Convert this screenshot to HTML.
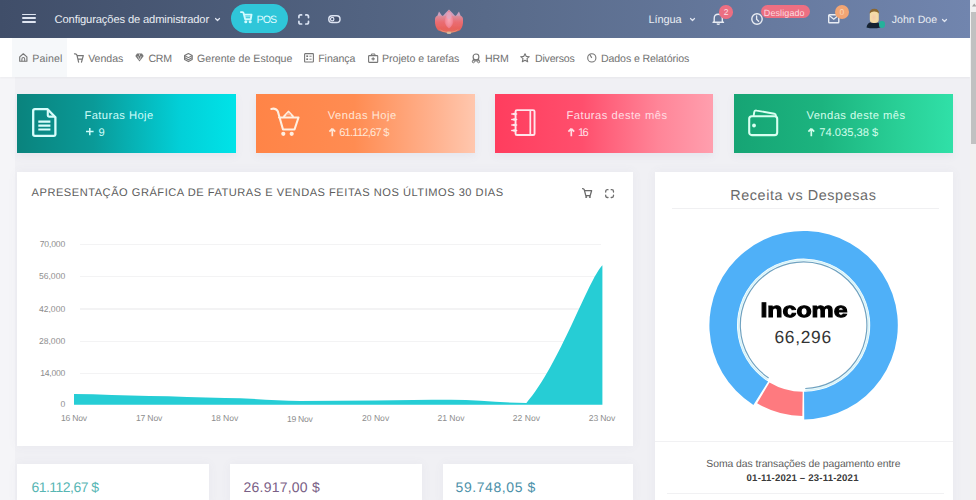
<!DOCTYPE html>
<html><head><meta charset="utf-8"><title>Dashboard</title><style>
*{margin:0;padding:0;box-sizing:border-box}
html,body{width:976px;height:500px;overflow:hidden;background:#f0f0f4;font-family:"Liberation Sans",sans-serif;text-rendering:geometricPrecision}
.t{position:absolute;white-space:nowrap;line-height:1}
.b{position:absolute}
.i{position:absolute;overflow:visible}
</style></head>
<body>
<div class="b" style="left:0px;top:77px;width:15px;height:423px;background:#f5f5f8"></div>
<div class="b" style="left:0px;top:0px;width:970px;height:38px;background:linear-gradient(90deg,#404e69 0%,#586a89 50%,#7185ae 100%)"></div>
<div class="b" style="left:22px;top:13.5px;width:14px;height:1.8px;background:#dfe5f1;border-radius:1px"></div>
<div class="b" style="left:22px;top:17.2px;width:14px;height:1.8px;background:#dfe5f1;border-radius:1px"></div>
<div class="b" style="left:22px;top:20.9px;width:14px;height:1.8px;background:#dfe5f1;border-radius:1px"></div>
<div class="t" style="left:54.60px;top:14.81px;font-size:11.2px;color:#e9edf3;letter-spacing:-0.140px;">Configurações de administrador</div>
<svg class="i" style="left:214.6px;top:17.5px;" width="5" height="3" viewBox="0 0 5 3"><path d="M0.5 0.5 L2.5 2.5 L4.5 0.5" fill="none" stroke="#dfe5f1" stroke-width="1.2" stroke-linecap="round" stroke-linejoin="round"/></svg>
<div class="b" style="left:231px;top:4px;width:56.5px;height:29px;background:#2fc6d9;border-radius:15px"></div>
<svg class="i" style="left:240px;top:11px;" width="12.5" height="12.5" viewBox="0 0 12.5 12.5"><path d="M0.9 1.1 H2.5 Q3.3 1.1 3.6 2.2 L5.2 8.3 H10.7 L11.5 3.6 H4" fill="none" stroke="#d2fbff" stroke-width="1.9" stroke-linejoin="round" stroke-linecap="round"/><rect x="4.6" y="5" width="6" height="1.4" fill="#d2fbff" opacity="0.5"/><circle cx="5.8" cy="10.8" r="1.55" fill="#d2fbff"/><circle cx="10.2" cy="10.8" r="1.55" fill="#d2fbff"/></svg>
<div class="t" style="left:256.60px;top:14.84px;font-size:10.6px;color:#dffbff;letter-spacing:-0.900px;">POS</div>
<svg class="i" style="left:297.8px;top:13.5px;" width="11.4" height="10.9" viewBox="0 0 11.4 10.9"><path d="M0.9 3.6 V2.7 Q0.9 0.9 2.7 0.9 H3.6 M7.8 0.9 H8.7 Q10.5 0.9 10.5 2.7 V3.6 M10.5 7.3 V8.2 Q10.5 10 8.7 10 H7.8 M3.6 10 H2.7 Q0.9 10 0.9 8.2 V7.3" fill="none" stroke="#d9e2f2" stroke-width="1.7" stroke-linecap="round"/></svg>
<svg class="i" style="left:328.1px;top:14.9px;" width="12.8" height="8.3" viewBox="0 0 12.8 8.3"><rect x="0.8" y="0.8" width="11.2" height="6.7" rx="3.35" fill="#46536f" stroke="#dde4f2" stroke-width="1.5"/><circle cx="4.2" cy="4.15" r="1.7" fill="none" stroke="#dde4f2" stroke-width="1.2"/></svg>
<svg class="i" style="left:430px;top:6px;" width="38" height="32" viewBox="0 0 38 32"><defs><filter id="bl" x="-30%" y="-30%" width="160%" height="160%"><feGaussianBlur stdDeviation="0.65"/></filter>
<radialGradient id="lg" cx="50%" cy="50%" r="50%"><stop offset="0" stop-color="#f9a6b4"/><stop offset="0.7" stop-color="#f28b9b"/><stop offset="1" stop-color="#ec7885"/></radialGradient>
<linearGradient id="lb" x1="0" y1="0" x2="0" y2="1"><stop offset="0" stop-color="#d9909f"/><stop offset="0.35" stop-color="#ea6d74"/><stop offset="0.75" stop-color="#e8625c"/><stop offset="1" stop-color="#e0705a"/></linearGradient></defs>
<g filter="url(#bl)">
<path d="M6.5 12 L9 5.5 L12.5 10.5 L15.5 7 L19 3.6 L22.5 7 L25.5 10.5 L29 5.5 L31.5 12 Z" fill="#cba0be"/>
<path d="M5 13 Q5.2 10 8 9.8 L30 9.8 Q32.8 10 33 13 Q33.5 20.5 30 24.3 Q25 27 19 27 Q13 27 8 24.3 Q4.5 20.5 5 13 Z" fill="url(#lb)"/>
<path d="M19 4.5 Q14.5 10 14.5 15 Q15 20 19 22.5 Q23 20 23.5 15 Q23.5 10 19 4.5 Z" fill="url(#lg)"/>
<ellipse cx="19" cy="9.5" rx="2.6" ry="3.6" fill="#dcaac6" opacity="0.7"/>
<path d="M9 23 Q13 25.6 19 26 Q25 25.6 29 23 Q26 26.5 19 27 Q12 26.5 9 23Z" fill="#e9a78a" opacity="0.6"/>
<ellipse cx="19" cy="26.8" rx="2.4" ry="1.3" fill="#d8b89c"/>
</g></svg>
<div class="t" style="left:648.60px;top:14.71px;font-size:11.0px;color:#e9edf3;letter-spacing:-0.100px;">Língua</div>
<svg class="i" style="left:689.6px;top:18.0px;" width="5" height="3" viewBox="0 0 5 3"><path d="M0.5 0.5 L2.5 2.5 L4.5 0.5" fill="none" stroke="#dfe5f1" stroke-width="1.2" stroke-linecap="round" stroke-linejoin="round"/></svg>
<svg class="i" style="left:712px;top:13.3px;" width="12.5" height="11.5" viewBox="0 0 12.5 11.5"><path d="M2.2 8.5 V5.5 Q2.2 1.3 6.25 1.3 Q10.3 1.3 10.3 5.5 V8.5 L11.5 9.3 H1 Z" fill="none" stroke="#e8ecf3" stroke-width="1.4" stroke-linejoin="round"/><path d="M4.8 10.6 Q6.25 12 7.7 10.6" fill="none" stroke="#e8ecf3" stroke-width="1.3"/></svg>
<div class="b" style="left:719.3px;top:5.2px;width:13.4px;height:13.4px;background:#ec6f82;border-radius:50%"></div>
<div class="t" style="left:526.00px;width:400px;text-align:center;top:8.40px;font-size:8.5px;color:#fbe4e8;">2</div>
<svg class="i" style="left:750.5px;top:12.5px;" width="12" height="12" viewBox="0 0 12 12"><circle cx="6" cy="6" r="5.2" fill="none" stroke="#e8ecf3" stroke-width="1.4"/><path d="M5.6 3 V6.3 L7.6 8.3" fill="none" stroke="#e8ecf3" stroke-width="1.3" stroke-linecap="round"/></svg>
<div class="b" style="left:761px;top:5.3px;width:49px;height:13px;background:#ec6f82;border-radius:6.5px"></div>
<div class="t" style="left:763.80px;top:9.00px;font-size:9.0px;color:#fcd8df;letter-spacing:0.100px;">Desligado</div>
<svg class="i" style="left:827.5px;top:14px;" width="11.5" height="9.5" viewBox="0 0 11.5 9.5"><rect x="0.7" y="0.7" width="10.1" height="8.1" rx="0.8" fill="none" stroke="#e8ecf3" stroke-width="1.4"/><path d="M0.9 1.2 L5.75 5.2 L10.6 1.2" fill="none" stroke="#e8ecf3" stroke-width="1.3"/></svg>
<div class="b" style="left:834.6px;top:5px;width:14.4px;height:14.4px;background:#f2a574;border-radius:50%"></div>
<div class="t" style="left:641.80px;width:400px;text-align:center;top:8.40px;font-size:8.5px;color:#fcd6b8;">0</div>
<svg class="i" style="left:866px;top:8px;" width="15" height="22" viewBox="0 0 15 22"><defs><filter id="avb" x="-20%" y="-20%" width="140%" height="140%"><feGaussianBlur stdDeviation="0.45"/></filter>
<radialGradient id="fg" cx="45%" cy="55%" r="60%"><stop offset="0" stop-color="#f6c9a8"/><stop offset="0.6" stop-color="#f4dca8"/><stop offset="1" stop-color="#eed39a"/></radialGradient></defs>
<g filter="url(#avb)">
<path d="M0.5 19.5 Q1 15 5 14.3 L11 14.3 Q14 15 14.5 19.5 Q7 21.2 0.5 19.5 Z" fill="#172133"/>
<rect x="3.8" y="2.3" width="9" height="12.8" rx="3.6" fill="url(#fg)"/>
<path d="M3.6 5.5 Q3.6 0.8 8.3 0.8 Q13 0.8 13 5.5 Q11 3.2 8.3 3.4 Q5.6 3.2 3.6 5.5 Z" fill="#8a6630"/>
</g></svg>
<div class="b" style="left:879.1px;top:21.4px;width:6.4px;height:6.4px;background:#25b19b;border-radius:45%;filter:blur(0.3px)"></div>
<div class="t" style="left:891.70px;top:14.87px;font-size:10.6px;color:#e9edf3;letter-spacing:0.005px;">John Doe</div>
<svg class="i" style="left:942px;top:18.6px;" width="5" height="3" viewBox="0 0 5 3"><path d="M0.5 0.5 L2.5 2.5 L4.5 0.5" fill="none" stroke="#dfe5f1" stroke-width="1.2" stroke-linecap="round" stroke-linejoin="round"/></svg>
<div class="b" style="left:0px;top:38px;width:970px;height:39px;background:#fff;box-shadow:0 1px 2px rgba(0,0,0,0.04)"></div>
<div class="b" style="left:12px;top:38px;width:55px;height:39px;background:#f6f8fa"></div>
<div class="t" style="left:32.20px;top:53.90px;font-size:10.6px;color:#727272;letter-spacing:0.150px;">Painel</div>
<div class="t" style="left:88.20px;top:53.90px;font-size:10.6px;color:#727272;letter-spacing:-0.050px;">Vendas</div>
<div class="t" style="left:148.40px;top:53.90px;font-size:10.6px;color:#727272;letter-spacing:-0.250px;">CRM</div>
<div class="t" style="left:197.00px;top:53.91px;font-size:10.6px;color:#727272;letter-spacing:0.032px;">Gerente de Estoque</div>
<div class="t" style="left:318.20px;top:53.90px;font-size:10.6px;color:#727272;letter-spacing:-0.068px;">Finança</div>
<div class="t" style="left:382.00px;top:53.91px;font-size:10.6px;color:#727272;letter-spacing:-0.022px;">Projeto e tarefas</div>
<div class="t" style="left:485.00px;top:53.90px;font-size:10.6px;color:#727272;letter-spacing:-0.100px;">HRM</div>
<div class="t" style="left:535.00px;top:53.90px;font-size:10.6px;color:#727272;letter-spacing:-0.208px;">Diversos</div>
<div class="t" style="left:601.00px;top:53.91px;font-size:10.6px;color:#727272;letter-spacing:-0.110px;">Dados e Relatórios</div>
<svg class="i" style="left:18.8px;top:53.1px;" width="8.6" height="9" viewBox="0 0 8.6 9"><path d="M0.7 8.3 V3.9 L4.3 0.8 L7.9 3.9 V8.3 Z" fill="none" stroke="#767676" stroke-width="1.15" stroke-linejoin="round"/><path d="M2.9 8.3 V5.9 Q2.9 4.6 4.3 4.6 Q5.7 4.6 5.7 5.9 V8.3" fill="none" stroke="#767676" stroke-width="1.05"/></svg>
<svg class="i" style="left:73.8px;top:53px;" width="10" height="10" viewBox="0 0 10 10"><path d="M0.5 0.9 Q2.3 0.4 3 2.3 L4.6 9.2 M7.5 9.2 L9.3 2.6 H3.1 M4.1 6.1 H8.2" fill="none" stroke="#767676" stroke-width="1.2" stroke-linejoin="round" stroke-linecap="round"/></svg>
<svg class="i" style="left:135px;top:53.2px;" width="9" height="9" viewBox="0 0 9 9"><path d="M2 0.5 H7 L8.7 3 L4.5 8.6 L0.3 3 Z" fill="#767676"/><path d="M2.8 3 L4.5 7 L6.2 3 M4.5 1 V3" fill="none" stroke="#e5e5e5" stroke-width="0.7"/></svg>
<svg class="i" style="left:183.6px;top:53.1px;" width="8.8" height="9.2" viewBox="0 0 8.8 9.2"><path d="M4.4 0.6 L8.2 2.6 V6.6 L4.4 8.6 L0.6 6.6 V2.6 Z" fill="none" stroke="#767676" stroke-width="1.15" stroke-linejoin="round"/><path d="M0.8 2.7 L4.4 4.6 L8 2.7 M0.8 4.8 L4.4 6.7 L8 4.8" fill="none" stroke="#767676" stroke-width="1.05" stroke-linejoin="round"/></svg>
<svg class="i" style="left:303.6px;top:53.2px;" width="10" height="9.6" viewBox="0 0 10 9.6"><rect x="0.6" y="0.6" width="8.8" height="8.4" rx="0.6" fill="none" stroke="#767676" stroke-width="1.1"/><rect x="2.3" y="2.4" width="1.8" height="1.6" fill="#767676"/><rect x="2.3" y="5.4" width="1.8" height="1.6" fill="#767676"/><path d="M5.4 3.2 H7.6 M5.4 6.2 H7.6" stroke="#767676" stroke-width="0.9"/></svg>
<svg class="i" style="left:367.7px;top:52.7px;" width="10.3" height="10" viewBox="0 0 10.3 10"><rect x="0.6" y="2.6" width="9.1" height="6.8" rx="0.7" fill="none" stroke="#767676" stroke-width="1.1"/><path d="M3.4 2.6 V1 H6.9 V2.6" fill="none" stroke="#767676" stroke-width="1"/><path d="M5.15 4.2 V7.6 M3.5 5.9 H6.8" stroke="#767676" stroke-width="1.1"/></svg>
<svg class="i" style="left:471px;top:52.5px;" width="10.5" height="10.5" viewBox="0 0 10.5 10.5"><circle cx="5" cy="3.9" r="2.9" fill="none" stroke="#767676" stroke-width="1.15"/><path d="M2.7 5.8 L1.6 8.4 M7.3 5.8 L8.4 8.4 M3.4 7.3 L5 8.2 L6.6 7.3" fill="none" stroke="#767676" stroke-width="1.05"/><circle cx="2.4" cy="8.7" r="1.1" fill="none" stroke="#767676" stroke-width="0.95"/><circle cx="7.6" cy="8.7" r="1.1" fill="none" stroke="#767676" stroke-width="0.95"/></svg>
<svg class="i" style="left:520.3px;top:53px;" width="10" height="9.6" viewBox="0 0 10 9.6"><path d="M5 0.7 L6.3 3.4 L9.3 3.7 L7 5.7 L7.7 8.8 L5 7.2 L2.3 8.8 L3 5.7 L0.7 3.7 L3.7 3.4 Z" fill="none" stroke="#767676" stroke-width="1.1" stroke-linejoin="round"/></svg>
<svg class="i" style="left:586.6px;top:53px;" width="9.6" height="9.6" viewBox="0 0 9.6 9.6"><circle cx="4.8" cy="4.9" r="4.1" fill="none" stroke="#767676" stroke-width="1.1"/><path d="M2.6 1.3 L4.8 4.9" stroke="#767676" stroke-width="1.1"/></svg>
<div class="b" style="left:17px;top:94px;width:219px;height:59px;background:linear-gradient(90deg,#0a837d 0%,#0a9a98 35%,#02d0d8 75%,#00e3e8 100%);box-shadow:0 3px 8px rgba(120,120,160,0.08)"></div>
<div class="b" style="left:256px;top:94px;width:219px;height:59px;background:linear-gradient(90deg,#ff8447 0%,#ff8c52 45%,#ffb08c 80%,#ffc7ae 100%);box-shadow:0 3px 8px rgba(120,120,160,0.08)"></div>
<div class="b" style="left:495.3px;top:94px;width:217.7px;height:59px;background:linear-gradient(90deg,#ff3d5e 0%,#ff4f6d 40%,#ff8598 75%,#ff9fae 100%);box-shadow:0 3px 8px rgba(120,120,160,0.08)"></div>
<div class="b" style="left:734px;top:94px;width:219px;height:59px;background:linear-gradient(90deg,#16a474 0%,#1cb47f 40%,#29cf96 75%,#30e0a8 100%);box-shadow:0 3px 8px rgba(120,120,160,0.08)"></div>
<svg class="i" style="left:31.5px;top:108px;" width="26" height="29.5" viewBox="0 0 26 29.5"><path d="M2.9 1.2 H15.6 L23.4 9.3 V26.5 Q23.4 27.8 22.1 27.8 H2.9 Q1.2 27.8 1.2 26.2 V2.8 Q1.2 1.2 2.9 1.2 Z" fill="none" stroke="#d8fdfb" stroke-width="2.3" stroke-linejoin="round"/><path d="M15.8 1.6 V7.5 Q15.8 8.6 17 8.6 H23" fill="none" stroke="#d8fdfb" stroke-width="2.1" stroke-linejoin="round"/><path d="M6.3 13.6 H18.4 M6.3 17.6 H18.4 M6.3 21.5 H18.4" stroke="#d8fdfb" stroke-width="2.1"/></svg>
<svg class="i" style="left:266px;top:104px;" width="36" height="34" viewBox="0 0 36 34"><path d="M5.3 4.9 Q9.6 3.8 11.8 7.2 L17 25.5 H28.5 L32.5 13.5 H13" fill="none" stroke="#fff0e2" stroke-width="2.1" stroke-linejoin="round" stroke-linecap="round"/><path d="M17.5 13 L22.5 7.6 L27.5 13" fill="none" stroke="#fff0e2" stroke-width="1.9" stroke-linejoin="round"/><path d="M19.5 11.2 L22.5 8.6 L25.5 11.2 Z" fill="#f6b08e"/><circle cx="17.3" cy="29.8" r="2.1" fill="#fff0e2"/><circle cx="25.7" cy="29.8" r="2.1" fill="#fff0e2"/></svg>
<svg class="i" style="left:506px;top:104px;" width="36" height="36" viewBox="0 0 36 36"><rect x="9.55" y="6.15" width="19" height="24.9" rx="1.4" fill="none" stroke="#ffe6eb" stroke-width="1.9"/><path d="M24.3 6.4 V30.8" stroke="#ffe6eb" stroke-width="1.7"/><path d="M5.8 10 H10.6" stroke="#ffe6eb" stroke-width="1.5" stroke-linecap="round"/><circle cx="8.2" cy="10" r="1.25" fill="#ffe6eb"/><path d="M5.8 15.5 H10.6" stroke="#ffe6eb" stroke-width="1.5" stroke-linecap="round"/><circle cx="8.2" cy="15.5" r="1.25" fill="#ffe6eb"/><path d="M5.8 21 H10.6" stroke="#ffe6eb" stroke-width="1.5" stroke-linecap="round"/><circle cx="8.2" cy="21" r="1.25" fill="#ffe6eb"/><path d="M5.8 26.4 H10.6" stroke="#ffe6eb" stroke-width="1.5" stroke-linecap="round"/><circle cx="8.2" cy="26.4" r="1.25" fill="#ffe6eb"/></svg>
<svg class="i" style="left:747.8px;top:108.8px;" width="30.5" height="27.5" viewBox="0 0 30.5 27.5"><rect x="1.2" y="7.2" width="28" height="18.9" rx="2.6" fill="none" stroke="#d8fff0" stroke-width="2.1"/><path d="M5.6 7.2 L6.2 3.4 Q6.6 1.2 8.6 1.6 L26.3 4.7 Q28.2 5.2 27.8 7.2" fill="none" stroke="#d8fff0" stroke-width="1.9"/><circle cx="6" cy="16.5" r="1.9" fill="#d8fff0"/></svg>
<div class="t" style="left:84.40px;top:110.82px;font-size:11.2px;color:#cdfcf9;letter-spacing:0.432px;">Faturas Hoje</div>
<div class="t" style="left:327.70px;top:110.78px;font-size:11.2px;color:#ffe6d6;letter-spacing:0.520px;">Vendas Hoje</div>
<div class="t" style="left:566.50px;top:110.82px;font-size:11.2px;color:#ffdde3;letter-spacing:0.492px;">Faturas deste mês</div>
<div class="t" style="left:806.40px;top:110.82px;font-size:11.2px;color:#d2fdeb;letter-spacing:0.445px;">Vendas deste mês</div>
<svg class="i" style="left:86.4px;top:128.1px;" width="7.6" height="7.2" viewBox="0 0 7.6 7.2"><path d="M3.8 0 V7.2 M0 3.6 H7.6" stroke="#cdfcf9" stroke-width="1.5"/></svg>
<div class="t" style="left:98.40px;top:127.98px;font-size:11.2px;color:#cdfcf9;letter-spacing:7.300px;">9</div>
<svg class="i" style="left:328.8px;top:127.8px;" width="6.6" height="8.2" viewBox="0 0 6.6 8.2"><path d="M3.3 0.6 L6.199999999999999 3.5999999999999996 M3.3 0.6 L0.4 3.5999999999999996 M3.3 0.8 V8.2" fill="none" stroke="#ffe6d6" stroke-width="1.7" stroke-linecap="butt" stroke-linejoin="miter"/></svg>
<div class="t" style="left:339.20px;top:127.98px;font-size:11.2px;color:#ffe6d6;letter-spacing:-0.810px;">61.112,67 $</div>
<svg class="i" style="left:568.4px;top:127.8px;" width="6.6" height="8.2" viewBox="0 0 6.6 8.2"><path d="M3.3 0.6 L6.199999999999999 3.5999999999999996 M3.3 0.6 L0.4 3.5999999999999996 M3.3 0.8 V8.2" fill="none" stroke="#ffdde3" stroke-width="1.7" stroke-linecap="butt" stroke-linejoin="miter"/></svg>
<div class="t" style="left:578.00px;top:127.96px;font-size:11.2px;color:#ffdde3;letter-spacing:-1.800px;">16</div>
<svg class="i" style="left:808.3px;top:127.8px;" width="6.6" height="8.2" viewBox="0 0 6.6 8.2"><path d="M3.3 0.6 L6.199999999999999 3.5999999999999996 M3.3 0.6 L0.4 3.5999999999999996 M3.3 0.8 V8.2" fill="none" stroke="#d2fdeb" stroke-width="1.7" stroke-linecap="butt" stroke-linejoin="miter"/></svg>
<div class="t" style="left:819.20px;top:127.98px;font-size:11.2px;color:#d2fdeb;">74.035,38 $</div>
<div class="b" style="left:17px;top:172px;width:616px;height:273.5px;background:#fff;box-shadow:0 0 10px rgba(100,100,140,0.06)"></div>
<div class="t" style="left:31.60px;top:187.86px;font-size:11.1px;color:#5c5c5c;letter-spacing:0.515px;">APRESENTAÇÃO GRÁFICA DE FATURAS E VENDAS FEITAS NOS ÚLTIMOS 30 DIAS</div>
<svg class="i" style="left:581.6px;top:188.2px;" width="10.4" height="10.2" viewBox="0 0 10.4 10.2"><path d="M0.6 0.7 Q1.8 0.6 2.3 1.8 L3.8 7.6 H8.2 L9.6 2.7 H2.6" fill="none" stroke="#6a6a6a" stroke-width="1.3" stroke-linejoin="round" stroke-linecap="round"/><circle cx="4.2" cy="9" r="1.05" fill="#6a6a6a"/><circle cx="7.9" cy="9" r="1.05" fill="#6a6a6a"/></svg>
<svg class="i" style="left:605px;top:188.8px;" width="9.2" height="9.2" viewBox="0 0 9.2 9.2"><path d="M0.7 3 V2.4 Q0.7 0.7 2.4 0.7 H3 M6.2 0.7 H6.8 Q8.5 0.7 8.5 2.4 V3 M8.5 6.2 V6.8 Q8.5 8.5 6.8 8.5 H6.2 M3 8.5 H2.4 Q0.7 8.5 0.7 6.8 V6.2" fill="none" stroke="#6e6e6e" stroke-width="1.3" stroke-linecap="round"/></svg>
<div class="b" style="left:80px;top:244.0px;width:521px;height:1.2px;background:#f3f3f4"></div>
<div class="b" style="left:80px;top:276.2px;width:521px;height:1.2px;background:#f3f3f4"></div>
<div class="b" style="left:80px;top:308.4px;width:521px;height:1.2px;background:#f3f3f4"></div>
<div class="b" style="left:80px;top:340.6px;width:521px;height:1.2px;background:#f3f3f4"></div>
<div class="b" style="left:80px;top:372.8px;width:521px;height:1.2px;background:#f3f3f4"></div>
<div class="t" style="left:-134.96px;width:200px;text-align:right;top:239.90px;font-size:8.6px;color:#8e8e8e;letter-spacing:-0.160px;">70,000</div>
<div class="t" style="left:-134.80px;width:200px;text-align:right;top:272.34px;font-size:8.6px;color:#8e8e8e;">56,000</div>
<div class="t" style="left:-134.80px;width:200px;text-align:right;top:304.94px;font-size:8.6px;color:#8e8e8e;">42,000</div>
<div class="t" style="left:-134.80px;width:200px;text-align:right;top:336.54px;font-size:8.6px;color:#8e8e8e;">28,000</div>
<div class="t" style="left:-134.92px;width:200px;text-align:right;top:369.10px;font-size:8.6px;color:#8e8e8e;letter-spacing:-0.220px;">14,000</div>
<div class="t" style="left:-134.80px;width:200px;text-align:right;top:400.32px;font-size:8.6px;color:#8e8e8e;">0</div>
<div class="t" style="left:-126.14px;width:400px;text-align:center;top:414.03px;font-size:8.6px;color:#8e8e8e;letter-spacing:-0.280px;">16 Nov</div>
<div class="t" style="left:-50.98px;width:400px;text-align:center;top:414.03px;font-size:8.6px;color:#8e8e8e;letter-spacing:-0.160px;">17 Nov</div>
<div class="t" style="left:24.80px;width:400px;text-align:center;top:414.03px;font-size:8.6px;color:#8e8e8e;">18 Nov</div>
<div class="t" style="left:99.72px;width:400px;text-align:center;top:414.56px;font-size:8.6px;color:#8e8e8e;letter-spacing:-0.260px;">19 Nov</div>
<div class="t" style="left:175.60px;width:400px;text-align:center;top:414.03px;font-size:8.6px;color:#8e8e8e;">20 Nov</div>
<div class="t" style="left:251.00px;width:400px;text-align:center;top:414.03px;font-size:8.6px;color:#8e8e8e;">21 Nov</div>
<div class="t" style="left:326.40px;width:400px;text-align:center;top:414.03px;font-size:8.6px;color:#8e8e8e;">22 Nov</div>
<div class="t" style="left:401.92px;width:400px;text-align:center;top:414.03px;font-size:8.6px;color:#8e8e8e;letter-spacing:-0.160px;">23 Nov</div>
<svg class="i" style="left:0;top:0" width="976" height="500"><path d="M74.0 404.7 L74.0 394.1 C99.1 394.1 124.3 396.0 149.4 396.0 C174.5 396.0 199.7 397.9 224.8 397.9 C249.9 397.9 275.1 401.0 300.2 401.0 C325.3 401.0 350.5 400.5 375.6 400.5 C400.7 400.5 425.9 399.8 451.0 399.8 C476.1 399.8 501.3 403.0 526.4 403.0 C559.4 365.0 588.4 279.2 602.4 265.2 L602.4 404.7 Z" fill="#26cdd5"/></svg>
<div class="b" style="left:655px;top:172px;width:298px;height:340px;background:#fff;box-shadow:0 0 10px rgba(100,100,140,0.06)"></div>
<div class="t" style="left:603.33px;width:400px;text-align:center;top:188.74px;font-size:14.4px;color:#6b6b6b;letter-spacing:0.580px;">Receita vs Despesas</div>
<div class="b" style="left:672px;top:208px;width:267px;height:1px;background:#f0f0f2"></div>
<svg class="i" style="left:0;top:0" width="976" height="500"><path d="M753.40 404.91 A94.2 94.2 0 1 1 804.26 419.40 L804.06 391.80 A66.6 66.6 0 1 0 768.11 381.56 Z" fill="#4fb0f8"/><path d="M802.33 415.99 A90.8 90.8 0 0 1 757.11 403.19 L769.50 382.41 A66.6 66.6 0 0 0 802.67 391.79 Z" fill="#fe7a7f"/><path d="M767.61 379.57 A65.2 65.2 0 1 1 805.31 390.38" fill="none" stroke="#d6f4fa" stroke-width="1.6"/><path d="M768.66 377.98 A63.3 63.3 0 1 1 805.26 388.48" fill="none" stroke="#6fa2c0" stroke-width="1.2"/></svg>
<div class="t" style="left:603.80px;width:400px;text-align:center;top:300.93px;font-size:20.8px;color:#000;transform:scaleX(1.1974);font-weight:700;-webkit-text-stroke:1.0px #000;">Income</div>
<div class="t" style="left:603.10px;width:400px;text-align:center;top:328.73px;font-size:17.4px;color:#333;letter-spacing:0.700px;">66,296</div>
<div class="b" style="left:655px;top:441.3px;width:298px;height:1.2px;background:#f1f1f3"></div>
<div class="t" style="left:603.37px;width:400px;text-align:center;top:460.44px;font-size:10.4px;color:#5c5c5c;letter-spacing:-0.060px;">Soma das transações de pagamento entre</div>
<div class="t" style="left:602.64px;width:400px;text-align:center;top:474.19px;font-size:9.6px;color:#3a3a3a;letter-spacing:0.188px;font-weight:700;">01-11-2021 – 23-11-2021</div>
<div class="b" style="left:667px;top:493.2px;width:277px;height:1.2px;background:#f1f1f3"></div>
<div class="b" style="left:17px;top:464px;width:192px;height:40px;background:#fff;box-shadow:0 0 10px rgba(100,100,140,0.06)"></div>
<div class="b" style="left:230px;top:464px;width:192px;height:40px;background:#fff;box-shadow:0 0 10px rgba(100,100,140,0.06)"></div>
<div class="b" style="left:443px;top:464px;width:190px;height:40px;background:#fff;box-shadow:0 0 10px rgba(100,100,140,0.06)"></div>
<div class="t" style="left:31.50px;top:479.93px;font-size:14.0px;color:#58b6b4;letter-spacing:-0.530px;">61.112,67 $</div>
<div class="t" style="left:243.60px;top:479.93px;font-size:14.0px;color:#7a6086;letter-spacing:0.220px;">26.917,00 $</div>
<div class="t" style="left:455.60px;top:479.93px;font-size:14.0px;color:#4b90a9;letter-spacing:0.570px;">59.748,05 $</div>
<div class="b" style="left:970px;top:0px;width:6px;height:500px;background:#f1f1f1"></div>
<div class="b" style="left:971px;top:12px;width:5px;height:131.5px;background:#c1c1c1"></div>
<svg class="i" style="left:971.5px;top:3px;" width="4.5" height="4" viewBox="0 0 4.5 4"><path d="M0 3.5 L2.25 0.5 L4.5 3.5Z" fill="#a3a3a3"/></svg>

</body></html>
